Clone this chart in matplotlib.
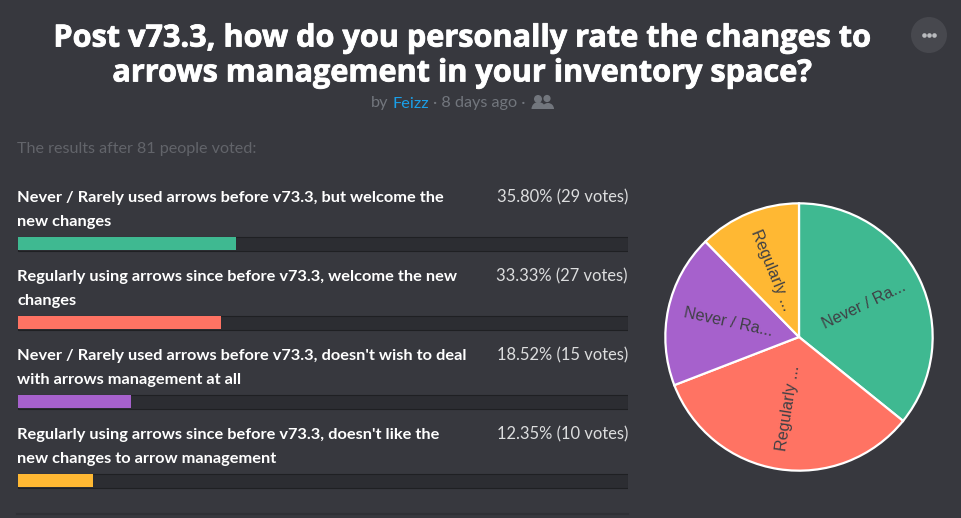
import matplotlib
matplotlib.use('Agg')
import matplotlib.pyplot as plt
import matplotlib.patheffects as pe
from matplotlib.patches import Circle, Ellipse, Wedge

##########
# Data
##########

options = [
    "Never / Rarely used arrows before v73.3, but welcome the\nnew changes",
    "Regularly using arrows since before v73.3, welcome the new\nchanges",
    "Never / Rarely used arrows before v73.3, doesn't wish to deal\nwith arrows management at all",
    "Regularly using arrows since before v73.3, doesn't like the\nnew changes to arrow management",
]
pie_labels = ["Never / Ra...", "Regularly ...", "Never / Ra...", "Regularly ..."]
votes = [29, 27, 15, 10]
percents = [35.80, 33.33, 18.52, 12.35]
result_labels = ["35.80% (29 votes)", "33.33% (27 votes)", "18.52% (15 votes)", "12.35% (10 votes)"]
colors = ["#3fb991", "#ff7363", "#a661cc", "#ffb833"]

title_text = "Post v73.3, how do you personally rate the changes to\narrows management in your inventory space?"
summary_text = "The results after 81 people voted:"

BG = "#37383e"
W, H = 961, 518

fig = plt.figure(figsize=(W / 100, H / 100), dpi=100, facecolor=BG)

##########
# Text layer, in pixels
##########

page = fig.add_axes([0, 0, 1, 1])
page.set_xlim(0, W)
page.set_ylim(H, 0)
page.axis('off')

title = page.text(462, 56, title_text, color="white", fontsize=22.05, fontweight='bold', family="Open Sans",
                  ha='center', va='center', linespacing=1.21)
title.set_path_effects([pe.withStroke(linewidth=0.6, foreground="white")])

page.text(371, 103.5, "by", color="#72767d", fontsize=11.7, family="Lato", va='center')
page.text(393, 103.5, "Feizz", color="#1a9fe8", fontsize=11.7, family="Lato", va='center')
page.text(433, 103.5, "· 8 days ago ·", color="#72767d", fontsize=11.7, family="Lato", va='center')

# people icon
for cx, cy, r in [(547, 98.5, 3.6), (538, 99, 4)]:
    page.add_patch(Circle((cx, cy), r, color="#72767d", lw=0))
for cx, wd in [(548, 10), (538.5, 12)]:
    page.add_patch(Wedge((cx, 109), wd / 2 + 1, 180, 360, color="#72767d", lw=0))

# menu button
page.add_patch(Ellipse((929, 35), 36, 36, color="#47484e", lw=0))
page.scatter([924, 929, 934], [35, 35, 35], s=11, color="#b9bbbe", lw=0)

page.text(17, 149.5, summary_text, color="#62646a", fontsize=11.6, family="Lato", va='center')

for i in range(len(options)):
    page.text(17, 210 + 79 * i, options[i], color="white", fontsize=11.8, fontweight='bold',
              family="Lato", va='center', linespacing=1.83)
    page.text(628, 197.5 + 79 * i, result_labels[i], color="#dcddde", fontsize=11.9,
              family="Lato", ha='right', va='center')

page.plot([17, 628], [514, 514], color="#2f3035", lw=1.5)

##########
# Bars
##########

# one y unit is 79 px, bars centred on 244, 323, 402, 481
ax = fig.add_axes([18 / W, 1 - (481 + 39.5) / H, 610 / W, 316 / H])
ax.set_xlim(0, 100)
ax.set_ylim(3.5, -0.5)
ax.axis('off')
ax.patch.set_alpha(0)
ypos = list(range(len(percents)))
ax.barh(ypos, [100] * 4, height=14 / 79, color="#2c2d32", edgecolor="#1f2023", linewidth=0.8, zorder=1)
ax.barh(ypos, percents, height=13 / 79, color=colors, linewidth=0, zorder=2)

##########
# Pie
##########

R = 135
cx, cy = 799, 337
pie_ax = fig.add_axes([(cx - R) / W, 1 - (cy + R) / H, 2 * R / W, 2 * R / H])
wedges, texts = pie_ax.pie(votes, colors=colors, labels=pie_labels, startangle=90, counterclock=False,
                           radius=1.0, labeldistance=0.54, rotatelabels=True,
                           wedgeprops={'edgecolor': 'white', 'linewidth': 1.6},
                           textprops={'color': '#3f4045', 'fontsize': 11.6, 'family': 'Liberation Sans'})
for t in texts:
    t.set_ha('center')
    t.set_va('center')
    t.set_rotation_mode('anchor')
pie_ax.set_xlim(-1.01, 1.01)
pie_ax.set_ylim(-1.01, 1.01)

fig.savefig('out.png', dpi=100, facecolor=BG)
